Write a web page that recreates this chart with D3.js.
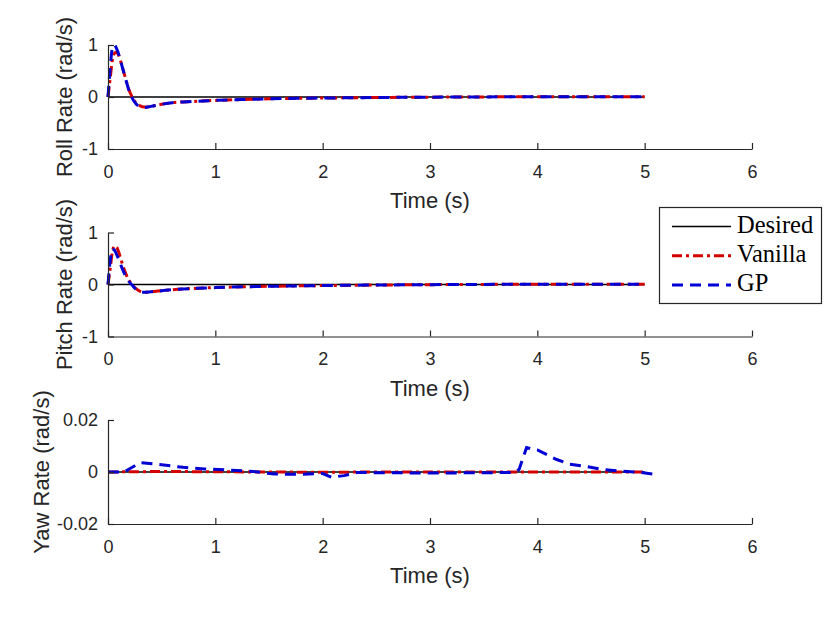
<!DOCTYPE html>
<html>
<head>
<meta charset="utf-8">
<script src="https://cdn.jsdelivr.net/npm/d3@7"></script>
<style>
  body { margin: 0; background: #fff; }
  svg { display: block; }
</style>
</head>
<body>
<svg id="chart"></svg>
<script>
// time samples for roll / pitch responses (s)
const tRate = [0, 0.02, 0.04, 0.06, 0.08, 0.1, 0.13, 0.16, 0.19, 0.22, 0.26, 0.3, 0.34, 0.4, 0.5, 0.6, 0.8, 1.0, 1.25, 1.5, 2.0, 2.5, 3.0, 3.5, 4.0, 4.5, 5.0]

const rollVanilla = [0, 0.35, 0.7, 0.84, 0.86, 0.8, 0.6, 0.38, 0.17, 0.02, -0.11, -0.17, -0.19, -0.18, -0.14, -0.11, -0.085, -0.065, -0.05, -0.035, -0.02, -0.01, -0.003, 0.002, 0.004, 0.004, 0.004]
const rollGP      = [0, 0.55, 0.93, 1.0, 0.93, 0.82, 0.6, 0.38, 0.16, 0.0, -0.13, -0.19, -0.2, -0.18, -0.14, -0.11, -0.085, -0.065, -0.05, -0.035, -0.02, -0.01, -0.003, 0.002, 0.004, 0.004, 0.004]

const pitchVanilla = [0, 0.3, 0.62, 0.74, 0.72, 0.62, 0.42, 0.24, 0.1, 0.01, -0.08, -0.13, -0.15, -0.14, -0.12, -0.1, -0.075, -0.06, -0.045, -0.035, -0.02, -0.01, -0.003, 0.002, 0.004, 0.004, 0.004]
const pitchGP      = [0, 0.45, 0.68, 0.66, 0.58, 0.48, 0.32, 0.18, 0.07, 0.0, -0.09, -0.14, -0.15, -0.14, -0.12, -0.1, -0.075, -0.06, -0.045, -0.035, -0.02, -0.01, -0.003, 0.002, 0.004, 0.004, 0.004]

// yaw responses
const tYawVanilla = [0, 0.5, 1, 1.5, 2, 2.5, 3, 3.5, 4, 4.5, 5]
const yawVanilla  = [0, 0.0002, 0.0001, 0, -0.0001, 0, 0, 0, 0, 0, 0]
const tYawGP = [0, 0.15, 0.3, 0.45, 0.7, 0.9, 1.1, 1.35, 1.55, 1.75, 2.0, 2.08, 2.2, 2.32, 2.6, 3.0, 3.4, 3.78, 3.83, 3.9, 4.0, 4.18, 4.3, 4.45, 4.6, 4.75, 4.95, 5.08]
const yawGP  = [0, 0, 0.0036, 0.003, 0.0018, 0.0012, 0.0008, 0.0002, -0.0008, -0.0009, -0.0006, -0.002, -0.0014, -0.0002, -0.0003, -0.0004, -0.0003, -0.0002, 0.001, 0.0094, 0.0085, 0.0048, 0.003, 0.0022, 0.001, 0.0004, -0.0001, -0.0008]

const tDesired = [0, 5]
const desired  = [0, 0]

const xTicks = [0, 1, 2, 3, 4, 5, 6]
const rateTicks = [-1, 0, 1]
const yawTicks = [-0.02, 0, 0.02]
const legendLabels = ['Desired', 'Vanilla', 'GP']

// setting up container
    const width = 830
    const height = 623
    const svg = d3.select('#chart')
        .attr('width', width)
        .attr('height', height)
        .style('background', '#fff')

    const axisColor = '#262626'
    const sansFont = '"Liberation Sans", Arial, sans-serif'

    const xScale = d3.scaleLinear()
        .domain([0, 6])
        .range([108, 752])

    const panels = [
        {top: 45, label: 'Roll Rate (rad/s)', labelX: 72, domain: [-1, 1], ticks: rateTicks, fmt: d => d,
         series: [
            {t: tDesired, v: desired, kind: 'desired'},
            {t: tRate, v: rollVanilla, kind: 'vanilla'},
            {t: tRate, v: rollGP, kind: 'gp'}
         ], smooth: true},
        {top: 232.5, label: 'Pitch Rate (rad/s)', labelX: 72, domain: [-1, 1], ticks: rateTicks, fmt: d => d,
         series: [
            {t: tDesired, v: desired, kind: 'desired'},
            {t: tRate, v: pitchVanilla, kind: 'vanilla'},
            {t: tRate, v: pitchGP, kind: 'gp'}
         ], smooth: true},
        {top: 420, label: 'Yaw Rate (rad/s)', labelX: 49, domain: [-0.02, 0.02], ticks: yawTicks, fmt: d => d === 0 ? '0' : d.toFixed(2),
         series: [
            {t: tDesired, v: desired, kind: 'desired'},
            {t: tYawVanilla, v: yawVanilla, kind: 'vanilla'},
            {t: tYawGP, v: yawGP, kind: 'gp'}
         ], smooth: false}
    ]
    const panelHeight = 104

    const styles = {
        desired: {stroke: '#000', width: 1.3, dash: null},
        vanilla: {stroke: '#d40000', width: 3, dash: '10,4,3,4'},
        gp: {stroke: '#0000d4', width: 3, dash: '11,7'}
    }

    panels.forEach(p => {
        const yScale = d3.scaleLinear()
            .domain(p.domain)
            .range([p.top + panelHeight, p.top])

        const g = svg.append('g')

        // lines
        p.series.forEach(s => {
            const st = styles[s.kind]
            const pts = s.t.map((t, i) => [t, s.v[i]])
            const line = d3.line()
                .x(d => xScale(d[0]))
                .y(d => yScale(d[1]))
                .curve(p.smooth ? d3.curveMonotoneX : d3.curveLinear)
            g.append('path')
                .datum(pts)
                .attr('d', line)
                .attr('fill', 'none')
                .attr('stroke', st.stroke)
                .attr('stroke-width', st.width)
                .attr('stroke-dasharray', st.dash)
        })

        // axes (ticks pointing inward)
        const xAxis = d3.axisBottom(xScale)
            .tickValues(xTicks)
            .tickFormat(d3.format('d'))
            .tickSizeInner(-6)
            .tickSizeOuter(0)
            .tickPadding(16)
        const yAxis = d3.axisLeft(yScale)
            .tickValues(p.ticks)
            .tickFormat(p.fmt)
            .tickSizeInner(-6)
            .tickSizeOuter(0)
            .tickPadding(10)

        const gx = g.append('g')
            .attr('transform', `translate(0, ${p.top + panelHeight})`)
            .call(xAxis)
        const gy = g.append('g')
            .attr('transform', `translate(${xScale(0)}, 0)`)
            .call(yAxis)

        ;[gx, gy].forEach(a => {
            a.select('.domain').attr('stroke', axisColor).attr('stroke-width', 1.2)
            a.selectAll('line').attr('stroke', axisColor).attr('stroke-width', 1.2)
            a.selectAll('text')
                .attr('fill', axisColor)
                .style('font-family', sansFont)
                .style('font-size', '18px')
        })
        gx.selectAll('text').attr('dy', '0.71em')

        // axis labels
        g.append('text')
            .attr('x', xScale(3))
            .attr('y', p.top + panelHeight + 59)
            .attr('text-anchor', 'middle')
            .attr('fill', axisColor)
            .style('font-family', sansFont)
            .style('font-size', '22px')
            .text('Time (s)')
        g.append('text')
            .attr('transform', `translate(${p.labelX}, ${p.top + panelHeight / 2}) rotate(-90)`)
            .attr('text-anchor', 'middle')
            .attr('fill', axisColor)
            .style('font-family', sansFont)
            .style('font-size', '22px')
            .text(p.label)
    })

// legend
    const legend = svg.append('g')
    legend.append('rect')
        .attr('x', 659.5)
        .attr('y', 207.5)
        .attr('width', 162)
        .attr('height', 96)
        .attr('fill', '#fff')
        .attr('stroke', axisColor)
        .attr('stroke-width', 1.2)
    legendLabels.forEach((name, i) => {
        const kind = ['desired', 'vanilla', 'gp'][i]
        const st = styles[kind]
        const y = 226.5 + i * 29.2
        legend.append('line')
            .attr('x1', 672).attr('x2', 731)
            .attr('y1', y).attr('y2', y)
            .attr('stroke', st.stroke)
            .attr('stroke-width', st.width)
            .attr('stroke-dasharray', st.dash)
        legend.append('text')
            .attr('x', 737)
            .attr('y', y + 6)
            .attr('fill', '#000')
            .style('font-family', '"Liberation Serif", "Times New Roman", serif')
            .style('font-size', '24.5px')
            .text(name)
    })
</script>
</body>
</html>
